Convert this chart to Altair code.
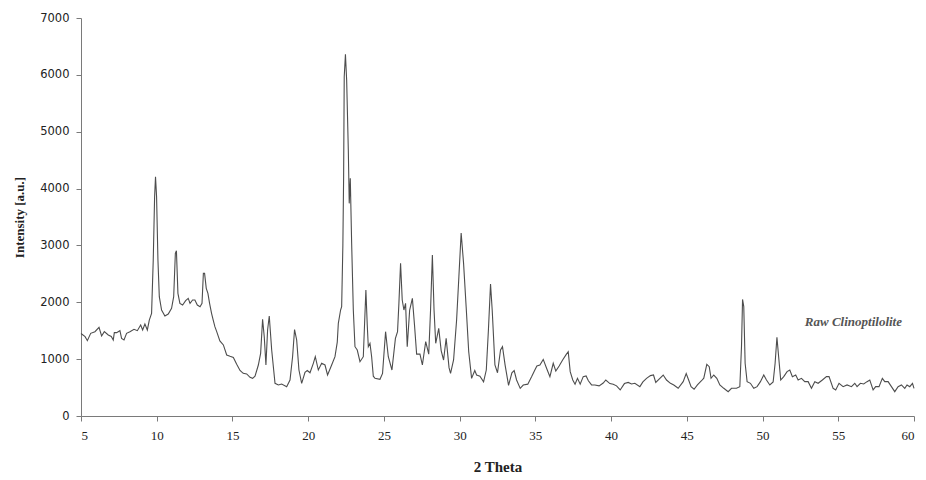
import altair as alt
import pandas as pd

two_theta = [
    5.0, 5.27, 5.42, 5.64, 5.92, 6.19, 6.36, 6.54, 6.8, 7.0, 7.13, 7.2, 7.35, 7.57, 7.68, 7.84,
    8.01, 8.23, 8.5, 8.72, 8.94, 9.07, 9.22, 9.38, 9.51, 9.66, 9.77, 9.86, 9.92, 9.99, 10.08,
    10.17, 10.32, 10.54, 10.76, 10.98, 11.12, 11.23, 11.3, 11.4, 11.53, 11.71, 11.91, 12.08,
    12.2, 12.37, 12.52, 12.68, 12.86, 12.99, 13.08, 13.16, 13.27, 13.38, 13.49, 13.62, 13.73,
    13.84, 13.96, 14.17, 14.4, 14.62, 14.84, 15.06, 15.28, 15.5, 15.71, 15.94, 16.16, 16.33,
    16.49, 16.71, 16.86, 16.99, 17.1, 17.21, 17.32, 17.43, 17.59, 17.81, 18.03, 18.25, 18.58,
    18.8, 18.97, 19.1, 19.24, 19.39, 19.57, 19.79, 19.94, 20.12, 20.34, 20.47, 20.67, 20.89,
    21.11, 21.28, 21.55, 21.77, 21.92, 21.99, 22.14, 22.21, 22.29, 22.34, 22.38, 22.46, 22.54,
    22.65, 22.71, 22.78, 22.87, 22.98, 23.09, 23.24, 23.42, 23.64, 23.81, 23.9, 23.97, 24.08,
    24.19, 24.3, 24.41, 24.74, 24.91, 25.11, 25.29, 25.53, 25.76, 25.9, 25.99, 26.1, 26.21,
    26.32, 26.43, 26.54, 26.7, 26.88, 27.02, 27.16, 27.38, 27.54, 27.76, 27.96, 28.08, 28.2,
    28.31, 28.42, 28.62, 28.78, 28.94, 29.11, 29.3, 29.4, 29.6, 29.8, 29.95, 30.1, 30.26,
    30.43, 30.6, 30.79, 31.0, 31.12, 31.34, 31.58, 31.76, 31.9, 32.04, 32.15, 32.33, 32.5,
    32.7, 32.83, 33.0, 33.23, 33.45, 33.6, 33.76, 34.0, 34.2, 34.5, 34.75, 34.95, 35.1, 35.3,
    35.52, 35.74, 35.96, 36.18, 36.35, 36.57, 36.8, 37.03, 37.17, 37.3, 37.47, 37.62, 37.78,
    37.96, 38.16, 38.35, 38.5, 38.71, 38.93, 39.21, 39.48, 39.65, 39.92, 40.14, 40.36, 40.6,
    40.88, 41.13, 41.35, 41.57, 41.9, 42.1, 42.34, 42.6, 42.8, 42.95, 43.22, 43.44, 43.66,
    43.92, 44.14, 44.43, 44.76, 44.96, 45.12, 45.28, 45.48, 45.7, 45.97, 46.12, 46.32, 46.48,
    46.6, 46.78, 46.98, 47.18, 47.44, 47.73, 47.95, 48.28, 48.5, 48.61, 48.68, 48.76, 48.85,
    48.98, 49.2, 49.42, 49.64, 49.86, 50.08, 50.26, 50.48, 50.7, 50.83, 50.95, 51.06, 51.2,
    51.4, 51.62, 51.8, 51.97, 52.19, 52.35, 52.57, 52.79, 53.01, 53.23, 53.45, 53.67, 53.95,
    54.22, 54.39, 54.66, 54.83, 55.05, 55.32, 55.58, 55.87, 56.09, 56.24, 56.46, 56.68, 56.9,
    57.08, 57.3, 57.47, 57.69, 57.91, 58.07, 58.29, 58.51, 58.73, 58.95, 59.17, 59.39, 59.54,
    59.72, 59.9, 60.0,
]

intensity = [
    1450, 1395, 1325, 1454, 1483, 1559, 1407, 1483, 1425, 1400, 1337, 1466, 1466, 1501, 1366, 1337,
    1454, 1483, 1524, 1501, 1600, 1513, 1618, 1513, 1688, 1806, 2743, 3857, 4209, 3857, 2743,
    2099, 1864, 1759, 1794, 1893, 2099, 2861, 2908, 2157, 1981, 1952, 2028, 2069,
    1981, 2040, 2040, 1952, 1923, 1981, 2509, 2509, 2245, 2157, 1981, 1806, 1688,
    1571, 1483, 1320, 1250, 1073, 1050, 1030, 910, 800, 750, 739, 680, 662,
    700, 897, 1102, 1700, 1395, 897, 1512, 1759, 1161, 575, 545, 563, 516,
    633, 1043, 1520, 1337, 809, 575, 770, 800, 760, 926, 1043, 809, 926,
    897, 721, 897, 1043, 1300, 1630, 1864, 1923, 3000, 4209, 5968, 6360, 5909,
    4678, 3740, 4180, 3037, 1864, 1219, 1160, 955, 1043, 2216, 1600, 1219, 1278,
    1043, 700, 662, 645, 750, 1483, 1043, 809, 1366, 1483, 1981, 2685, 2040,
    1864, 1981, 1219, 1864, 2069, 1600, 1088, 1088, 897, 1307, 1088, 1864, 2831,
    1864, 1278, 1542, 1150, 985, 1366, 850, 750, 985, 1688, 2450, 3220, 2685,
    1920, 1130, 662, 800, 721, 700, 600, 809, 1513, 2322, 1864, 900, 760,
    1160, 1220, 900, 540, 760, 800, 633, 486, 545, 560, 690, 800, 880, 896,
    995, 839, 692, 927, 790, 880, 985, 1080, 1132, 780, 633, 560, 663,
    560, 692, 705, 620, 546, 546, 530, 580, 633, 570, 560, 530, 458,
    570, 590, 563, 575, 516, 600, 663, 710, 721, 590, 663, 721, 633,
    575, 546, 487, 604, 745, 633, 516, 470, 546, 620, 665, 910, 868,
    663, 721, 663, 546, 487, 428, 487, 487, 516, 1220, 2050, 1923, 927,
    604, 575, 487, 516, 604, 721, 633, 546, 600, 927, 1384, 1050, 633,
    692, 780, 809, 692, 721, 633, 663, 604, 604, 487, 604, 575, 633,
    692, 692, 487, 458, 575, 516, 546, 516, 575, 516, 575, 563, 604,
    633, 458, 516, 516, 663, 604, 604, 516, 428, 516, 546, 487, 546,
    516, 575, 487,
]

x_ticks = [5, 10, 15, 20, 25, 30, 35, 40, 45, 50, 55, 60]
y_ticks = [0, 1000, 2000, 3000, 4000, 5000, 6000, 7000]

label_text = ["Raw Clinoptilolite"]
label_theta = [56.0]
label_intensity = [1650]

df = pd.DataFrame({"two_theta": two_theta, "intensity": intensity})
df_label = pd.DataFrame({"two_theta": label_theta, "intensity": label_intensity, "text": label_text})

x_enc = alt.X(
    "two_theta:Q",
    scale=alt.Scale(domain=[5, 60], nice=False, zero=False),
    axis=alt.Axis(
        values=x_ticks,
        title="2 Theta",
        grid=False,
        labelFont="Liberation Serif",
        labelFontSize=13,
        labelColor="#222222",
        labelPadding=8,
        tickSize=5,
        tickColor="#7a7a7a",
        domainColor="#7a7a7a",
        titleFont="Liberation Serif",
        titleFontSize=15,
        titleFontWeight="bold",
        titleColor="#222222",
        titlePadding=17,
    ),
)

y_enc = alt.Y(
    "intensity:Q",
    scale=alt.Scale(domain=[0, 7000], nice=False),
    axis=alt.Axis(
        values=y_ticks,
        format="d",
        title="Intensity [a.u.]",
        grid=False,
        labelFont="DejaVu Sans",
        labelFontSize=11.5,
        labelColor="#222222",
        labelPadding=7,
        tickSize=5,
        tickColor="#7a7a7a",
        domainColor="#7a7a7a",
        titleFont="Liberation Serif",
        titleFontSize=13,
        titleFontWeight="bold",
        titleColor="#222222",
        titlePadding=13,
    ),
)

line = alt.Chart(df).mark_line(color="#4d4d4d", strokeWidth=1.1).encode(x=x_enc, y=y_enc)

label = alt.Chart(df_label).mark_text(
    font="Liberation Serif",
    fontSize=13,
    fontStyle="italic",
    fontWeight="bold",
    color="#555555",
    align="center",
    baseline="middle",
).encode(x="two_theta:Q", y="intensity:Q", text="text:N")

chart = (
    alt.layer(line, label)
    .properties(
        width=833,
        height=398,
        autosize=alt.AutoSizeParams(type="none"),
        padding={"left": 81, "top": 18, "right": 12, "bottom": 64},
        background="white",
    )
    .configure_view(stroke=None)
)

chart.save("out.html", embed_options={"renderer": "svg", "actions": False})
